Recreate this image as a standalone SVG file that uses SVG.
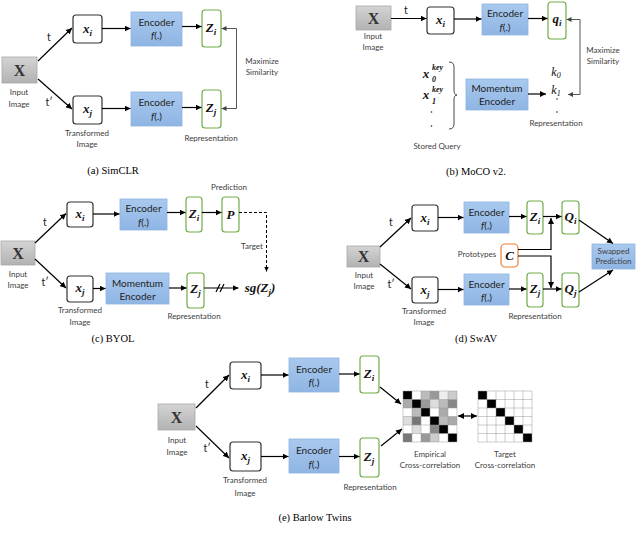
<svg xmlns="http://www.w3.org/2000/svg" width="640" height="536" viewBox="0 0 640 536">
<defs>
<linearGradient id="gx" x1="0" y1="0" x2="0" y2="1"><stop offset="0" stop-color="#d4d4d4"/><stop offset="1" stop-color="#b2b2b2"/></linearGradient>
<linearGradient id="gb" x1="0" y1="0" x2="0" y2="1"><stop offset="0" stop-color="#a9c9ee"/><stop offset="1" stop-color="#8fb5e4"/></linearGradient>
<marker id="ah" viewBox="0 0 10 10" refX="10" refY="5" markerWidth="5" markerHeight="5" orient="auto-start-reverse"><path d="M0,0 L10,5 L0,10 z" fill="#000"/></marker>
<marker id="ahg" viewBox="0 0 10 10" refX="10" refY="5" markerWidth="5" markerHeight="5" orient="auto"><path d="M0,0 L10,5 L0,10 z" fill="#444"/></marker>
<style>
.lbl{font-family:Lato,"Open Sans",sans-serif;font-size:8px;fill:#404040;text-anchor:middle}
.enc{font-family:Lato,"Open Sans",sans-serif;font-size:10px;fill:#222;text-anchor:middle}
.tt{font-family:Lato,"Open Sans",sans-serif;font-size:10.5px;fill:#222;text-anchor:middle}
.m{font-family:"Liberation Serif","DejaVu Serif",serif;font-style:italic;font-weight:bold;font-size:13px;fill:#111;text-anchor:middle}
.ms{font-family:"Liberation Serif","DejaVu Serif",serif;font-style:italic;font-weight:bold;font-size:8px;fill:#111;text-anchor:start}
.mk{font-family:"Liberation Serif","DejaVu Serif",serif;font-style:italic;font-size:12px;fill:#111;text-anchor:middle}
.s{font-size:9px}
.X{font-family:"Liberation Serif","DejaVu Serif",serif;font-weight:bold;font-size:16px;fill:#333;text-anchor:middle}
.cap{font-family:"Liberation Serif","Times New Roman",serif;font-size:10.5px;fill:#000;text-anchor:middle}
.xb{fill:url(#gx);stroke:#a8a8a8;stroke-width:0.8}
.bx{fill:#fff;stroke:#333;stroke-width:1.2}
.eb{fill:url(#gb);stroke:#8db3e2;stroke-width:0.8}
.zb{fill:#fff;stroke:#70ad47;stroke-width:1.2}
.cb{fill:#fff;stroke:#ed7d31;stroke-width:1.2}
.ar{stroke:#000;stroke-width:1.2;fill:none;marker-end:url(#ah)}
.ag{stroke:#555;stroke-width:1;fill:none;marker-end:url(#ahg)}
.ln{stroke:#000;stroke-width:1.2;fill:none}
.gl{stroke:#999;stroke-width:0.5;fill:none}
</style>
</defs>
<rect width="640" height="536" fill="#fff"/>

<!-- (a) SimCLR -->
<g id="a-X"><rect class="xb" x="2" y="57" width="35" height="26"/><text class="X" x="19.5" y="76">X</text></g>
<g id="a-xi"><rect class="bx" x="73" y="15" width="29" height="28" rx="3"/><text class="m" x="87.5" y="33">x<tspan class="s" dy="3">i</tspan></text></g>
<g id="a-xj"><rect class="bx" x="73" y="96" width="29" height="28" rx="3"/><text class="m" x="87.5" y="113">x<tspan class="s" dy="3">j</tspan></text></g>
<g id="a-enc1"><rect class="eb" x="131" y="12" width="51" height="34"/><text class="enc" x="156.5" y="25.5">Encoder</text><text class="enc" x="156.5" y="39"><tspan font-style="italic">f</tspan>(.)</text></g>
<g id="a-enc2"><rect class="eb" x="131" y="92" width="51" height="34"/><text class="enc" x="156.5" y="105.5">Encoder</text><text class="enc" x="156.5" y="119.5"><tspan font-style="italic">f</tspan>(.)</text></g>
<g id="a-zi"><rect class="zb" x="202" y="10" width="19" height="37" rx="3"/><text class="m" x="211" y="32">Z<tspan class="s" dy="3">i</tspan></text></g>
<g id="a-zj"><rect class="zb" x="202" y="90" width="19" height="38" rx="3"/><text class="m" x="211" y="112">Z<tspan class="s" dy="3">j</tspan></text></g>
<g id="a-labels">
<text class="lbl" x="19" y="94.5">Input</text><text class="lbl" x="19" y="107">Image</text>
<text class="tt" x="49" y="41">t</text><text class="tt" x="49" y="106">t′</text>
<text class="lbl" x="87" y="135.5">Transformed</text><text class="lbl" x="87" y="147">Image</text>
<text class="lbl" x="211" y="141">Representation</text>
<text class="lbl" x="262" y="64">Maximize</text><text class="lbl" x="262" y="75">Similarity</text>
<text class="cap" x="113" y="174">(a) SimCLR</text>
</g>

<!-- (b) MoCo v2 -->
<g id="b-X"><rect class="xb" x="356" y="6" width="35" height="24"/><text class="X" x="373.5" y="24">X</text></g>
<g id="b-xi"><rect class="bx" x="427" y="7" width="27" height="27" rx="3"/><text class="m" x="440.5" y="23.5">x<tspan class="s" dy="3">i</tspan></text></g>
<g id="b-enc"><rect class="eb" x="482" y="4" width="46" height="31"/><text class="enc" x="505" y="17">Encoder</text><text class="enc" x="505" y="31"><tspan font-style="italic">f</tspan>(.)</text></g>
<g id="b-qi"><rect class="zb" x="548" y="2" width="18" height="37" rx="3"/><text class="m" x="557" y="23">q<tspan class="s" dy="3">i</tspan></text></g>
<g id="b-menc"><rect class="eb" x="466" y="79" width="62" height="31"/><text class="enc" x="497" y="92">Momentum</text><text class="enc" x="497" y="104.5">Encoder</text></g>
<g id="b-keys">
<text class="m" x="426" y="78">x</text><text class="ms" x="432" y="70">key</text><text class="ms" x="432" y="82" font-style="normal">0</text>
<text class="m" x="426" y="99">x</text><text class="ms" x="432" y="92">key</text><text class="ms" x="432" y="104" font-style="normal">1</text>
<circle cx="431.5" cy="112" r="0.8" fill="#222"/><circle cx="431.5" cy="126" r="0.8" fill="#222"/>
<path d="M449,62 Q454,62 454,67 L454,90 Q454,95 457,95 Q454,95 454,100 L454,124 Q454,129 449,129" fill="none" stroke="#333" stroke-width="0.9"/>
</g>
<g id="b-k">
<text class="mk" x="556" y="76">k<tspan font-size="8" dy="2">0</tspan></text>
<text class="mk" x="556" y="94">k<tspan font-size="8" dy="2">1</tspan></text>
<circle cx="557" cy="99" r="0.8" fill="#222"/><circle cx="557" cy="112" r="0.8" fill="#222"/>
</g>
<g id="b-labels">
<text class="lbl" x="373" y="39">Input</text><text class="lbl" x="373" y="50">Image</text>
<text class="tt" x="406" y="14">t</text>
<text class="lbl" x="556" y="125.5">Representation</text>
<text class="lbl" x="437" y="149">Stored Query</text>
<text class="lbl" x="603" y="52.5">Maximize</text><text class="lbl" x="603" y="63.5">Similarity</text>
<text class="cap" x="476" y="175">(b) MoCO v2.</text>
</g>

<!-- (c) BYOL -->
<g id="c-X"><rect class="xb" x="1" y="241" width="34" height="24"/><text class="X" x="18" y="259">X</text></g>
<g id="c-xi"><rect class="bx" x="67" y="202" width="26" height="25" rx="3"/><text class="m" x="80" y="218">x<tspan class="s" dy="3">i</tspan></text></g>
<g id="c-xj"><rect class="bx" x="67" y="276" width="26" height="26" rx="3"/><text class="m" x="80" y="292">x<tspan class="s" dy="3">j</tspan></text></g>
<g id="c-enc"><rect class="eb" x="120" y="199" width="47" height="31"/><text class="enc" x="143.5" y="212">Encoder</text><text class="enc" x="143.5" y="225.5"><tspan font-style="italic">f</tspan>(.)</text></g>
<g id="c-menc"><rect class="eb" x="106" y="273" width="63" height="31"/><text class="enc" x="137.5" y="286.5">Momentum</text><text class="enc" x="137.5" y="300">Encoder</text></g>
<g id="c-zi"><rect class="zb" x="186" y="197" width="16" height="35" rx="3"/><text class="m" x="194" y="218">Z<tspan class="s" dy="3">i</tspan></text></g>
<g id="c-p"><rect class="zb" x="222" y="197" width="17" height="35" rx="3"/><text class="m" x="230.5" y="219">P</text></g>
<g id="c-zj"><rect class="zb" x="187" y="273" width="17" height="35" rx="3"/><text class="m" x="195.5" y="293">Z<tspan class="s" dy="3">j</tspan></text></g>
<g id="c-sg"><text class="m" x="260" y="292">sg(Z<tspan class="s" dy="3">j</tspan><tspan dy="-3">)</tspan></text></g>
<g id="c-labels">
<text class="lbl" x="18" y="276.5">Input</text><text class="lbl" x="18" y="287.5">Image</text>
<text class="tt" x="45" y="225.5">t</text><text class="tt" x="45" y="286">t′</text>
<text class="lbl" x="80" y="313">Transformed</text><text class="lbl" x="80" y="324.5">Image</text>
<text class="lbl" x="194" y="319">Representation</text>
<text class="lbl" x="229" y="190">Prediction</text>
<text class="lbl" x="252" y="249">Target</text>
<text class="cap" x="113" y="342">(c) BYOL</text>
</g>

<!-- (d) SwAV -->
<g id="d-X"><rect class="xb" x="347" y="246" width="33" height="21"/><text class="X" x="363.5" y="262">X</text></g>
<g id="d-xi"><rect class="bx" x="412" y="205" width="26" height="26" rx="3"/><text class="m" x="425" y="221.5">x<tspan class="s" dy="3">i</tspan></text></g>
<g id="d-xj"><rect class="bx" x="412" y="277" width="26" height="26" rx="3"/><text class="m" x="425" y="293.5">x<tspan class="s" dy="3">j</tspan></text></g>
<g id="d-enc1"><rect class="eb" x="464" y="202" width="45" height="31"/><text class="enc" x="486.5" y="216">Encoder</text><text class="enc" x="486.5" y="229"><tspan font-style="italic">f</tspan>(.)</text></g>
<g id="d-enc2"><rect class="eb" x="464" y="274" width="45" height="31"/><text class="enc" x="486.5" y="288">Encoder</text><text class="enc" x="486.5" y="301"><tspan font-style="italic">f</tspan>(.)</text></g>
<g id="d-zi"><rect class="zb" x="527" y="201" width="16" height="33" rx="3"/><text class="m" x="535" y="221">Z<tspan class="s" dy="3">i</tspan></text></g>
<g id="d-zj"><rect class="zb" x="527" y="273" width="16" height="34" rx="3"/><text class="m" x="535" y="293">Z<tspan class="s" dy="3">j</tspan></text></g>
<g id="d-qi"><rect class="zb" x="562" y="201" width="17" height="33" rx="3"/><text class="m" x="570.5" y="221">Q<tspan class="s" dy="3">i</tspan></text></g>
<g id="d-qj"><rect class="zb" x="562" y="273" width="17" height="34" rx="3"/><text class="m" x="570.5" y="293">Q<tspan class="s" dy="3">j</tspan></text></g>
<g id="d-c"><rect class="cb" x="501" y="244" width="17" height="23" rx="4"/><text class="m" x="509.5" y="259.5" font-size="12">C</text></g>
<g id="d-swap"><rect class="eb" x="592" y="244" width="43" height="25"/><text class="lbl" x="613.5" y="254" fill="#222" font-size="8.5">Swapped</text><text class="lbl" x="613.5" y="264" fill="#222" font-size="8.5">Prediction</text></g>
<g id="d-labels">
<text class="lbl" x="364" y="278">Input</text><text class="lbl" x="364" y="289">Image</text>
<text class="tt" x="391" y="226">t</text><text class="tt" x="391" y="288">t′</text>
<text class="lbl" x="424" y="314">Transformed</text><text class="lbl" x="424" y="325">Image</text>
<text class="lbl" x="535" y="319">Representation</text>
<text class="lbl" x="477" y="256.5">Prototypes</text>
<text class="cap" x="476" y="342">(d) SwAV</text>
</g>

<!-- (e) Barlow Twins -->
<g id="e-X"><rect class="xb" x="158" y="404" width="37" height="26"/><text class="X" x="176.5" y="423">X</text></g>
<g id="e-xi"><rect class="bx" x="230" y="362" width="31" height="27" rx="3"/><text class="m" x="245.5" y="379">x<tspan class="s" dy="3">i</tspan></text></g>
<g id="e-xj"><rect class="bx" x="230" y="442" width="31" height="29" rx="3"/><text class="m" x="245.5" y="460">x<tspan class="s" dy="3">j</tspan></text></g>
<g id="e-enc1"><rect class="eb" x="289" y="358" width="50" height="34"/><text class="enc" x="314" y="372.5">Encoder</text><text class="enc" x="314" y="386"><tspan font-style="italic">f</tspan>(.)</text></g>
<g id="e-enc2"><rect class="eb" x="289" y="439" width="50" height="34"/><text class="enc" x="314" y="453.5">Encoder</text><text class="enc" x="314" y="467.5"><tspan font-style="italic">f</tspan>(.)</text></g>
<g id="e-zi"><rect class="zb" x="360" y="356" width="19" height="37" rx="3"/><text class="m" x="369" y="378">Z<tspan class="s" dy="3">i</tspan></text></g>
<g id="e-zj"><rect class="zb" x="360" y="438" width="19" height="39" rx="3"/><text class="m" x="369" y="461">Z<tspan class="s" dy="3">j</tspan></text></g>
<g id="e-emp">
<rect x="403" y="391" width="54" height="51" fill="#fff"/>
<rect x="403" y="391" width="9" height="8.5" fill="#000"/><rect x="421" y="391" width="9" height="8.5" fill="#bbb"/><rect x="430" y="391" width="9" height="8.5" fill="#999"/><rect x="439" y="391" width="9" height="8.5" fill="#eee"/><rect x="448" y="391" width="9" height="8.5" fill="#ccc"/>
<rect x="403" y="399.5" width="9" height="8.5" fill="#aaa"/><rect x="412" y="399.5" width="9" height="8.5" fill="#000"/><rect x="421" y="399.5" width="9" height="8.5" fill="#999"/><rect x="430" y="399.5" width="9" height="8.5" fill="#ddd"/><rect x="439" y="399.5" width="9" height="8.5" fill="#bbb"/><rect x="448" y="399.5" width="9" height="8.5" fill="#888"/>
<rect x="412" y="408" width="9" height="8.5" fill="#bbb"/><rect x="421" y="408" width="9" height="8.5" fill="#000"/><rect x="439" y="408" width="9" height="8.5" fill="#aaa"/>
<rect x="403" y="416.5" width="9" height="8.5" fill="#ddd"/><rect x="412" y="416.5" width="9" height="8.5" fill="#777"/><rect x="430" y="416.5" width="9" height="8.5" fill="#000"/><rect x="439" y="416.5" width="9" height="8.5" fill="#bbb"/><rect x="448" y="416.5" width="9" height="8.5" fill="#aaa"/>
<rect x="412" y="425" width="9" height="8.5" fill="#ddd"/><rect x="430" y="425" width="9" height="8.5" fill="#888"/><rect x="439" y="425" width="9" height="8.5" fill="#000"/>
<rect x="403" y="433.5" width="9" height="8.5" fill="#777"/><rect x="421" y="433.5" width="9" height="8.5" fill="#999"/><rect x="430" y="433.5" width="9" height="8.5" fill="#ccc"/><rect x="448" y="433.5" width="9" height="8.5" fill="#000"/>
<path class="gl" d="M403,391V442M412,391V442M421,391V442M430,391V442M439,391V442M448,391V442M457,391V442M403,391H457M403,399.5H457M403,408H457M403,416.5H457M403,425H457M403,433.5H457M403,442H457"/>
</g>
<g id="e-tgt">
<rect x="478" y="391" width="54" height="51" fill="#fff"/>
<rect x="478" y="391" width="9" height="8.5" fill="#000"/><rect x="487" y="399.5" width="9" height="8.5" fill="#000"/><rect x="496" y="408" width="9" height="8.5" fill="#000"/><rect x="505" y="416.5" width="9" height="8.5" fill="#000"/><rect x="514" y="425" width="9" height="8.5" fill="#000"/><rect x="523" y="433.5" width="9" height="8.5" fill="#000"/>
<path class="gl" d="M478,391V442M487,391V442M496,391V442M505,391V442M514,391V442M523,391V442M532,391V442M478,391H532M478,399.5H532M478,408H532M478,416.5H532M478,425H532M478,433.5H532M478,442H532"/>
</g>
<g id="e-labels">
<text class="lbl" x="177" y="443">Input</text><text class="lbl" x="177" y="455">Image</text>
<text class="tt" x="207" y="387.5">t</text><text class="tt" x="207" y="452">t′</text>
<text class="lbl" x="245" y="483">Transformed</text><text class="lbl" x="245" y="495.5">Image</text>
<text class="lbl" x="370" y="490">Representation</text>
<text class="lbl" x="430" y="456.5">Empirical</text><text class="lbl" x="430" y="467.5">Cross-correlation</text>
<text class="lbl" x="505" y="456.5">Target</text><text class="lbl" x="505" y="467.5">Cross-correlation</text>
<text class="cap" x="315" y="521">(e) Barlow Twins</text>
</g>

<g id="connectors">
<!-- a -->
<path class="ar" d="M38,61 L72,28"/>
<path class="ar" d="M38,79 L72,109"/>
<path class="ar" d="M102,28.5 H130.5"/>
<path class="ar" d="M182,26.5 H201.5"/>
<path class="ar" d="M102,108.5 H130.5"/>
<path class="ar" d="M182,107.5 H201.5"/>
<path class="ag" d="M236.5,28.5 H221.5"/>
<path class="ag" d="M236.5,28.5 V108.5 H221.5"/>
<!-- b -->
<path class="ar" d="M391,18.5 H426.5"/>
<path class="ar" d="M454,19 H481.5"/>
<path class="ar" d="M528,18.5 H547.5"/>
<path class="ar" d="M528,94 H546"/>
<path class="ag" d="M580,19.5 H566.5"/>
<path class="ag" d="M580,19.5 V94.5 H568"/>
<!-- c -->
<path class="ar" d="M35,243 L66,213.5"/>
<path class="ar" d="M35,259 L66,288"/>
<path class="ar" d="M93,214 H119.5"/>
<path class="ar" d="M167,212.5 H185.5"/>
<path class="ar" d="M202,212.5 H221.5"/>
<path d="M239,212.5 H266.5 V271.5" fill="none" stroke="#000" stroke-width="1" stroke-dasharray="3,2" marker-end="url(#ah)"/>
<path class="ar" d="M93,288.5 H105.5"/>
<path class="ar" d="M169,288 H186.5"/>
<path class="ar" d="M204,288 H238.5"/>
<path class="ln" d="M216,292 L220,284 M220,292 L224,284" stroke-width="1"/>
<!-- d -->
<path class="ar" d="M380,247 L411,218"/>
<path class="ar" d="M380,264 L411,289"/>
<path class="ar" d="M438,217.5 H463.5"/>
<path class="ar" d="M438,289.5 H463.5"/>
<path class="ar" d="M509,216.5 H526.5"/>
<path class="ar" d="M509,289 H526.5"/>
<path class="ar" d="M543,216.5 H561.5"/>
<path class="ar" d="M543,289 H561.5"/>
<path class="ar" d="M518,249.5 H551 V218"/>
<path class="ar" d="M518,256 H551 V288"/>
<path class="ar" d="M579,220 L613,243.5"/>
<path class="ar" d="M579,292 L613,270"/>
<!-- e -->
<path class="ar" d="M196,408 L229,375"/>
<path class="ar" d="M196,426 L229,458"/>
<path class="ar" d="M261,375 H288.5"/>
<path class="ar" d="M261,456.5 H288.5"/>
<path class="ar" d="M339,374 H359.5"/>
<path class="ar" d="M339,456.5 H359.5"/>
<path class="ar" d="M380,387 L401,404"/>
<path class="ar" d="M381,446 L402,429"/>
<path class="ar" d="M458,416 H477" marker-start="url(#ah)"/>
</g>
</svg>
